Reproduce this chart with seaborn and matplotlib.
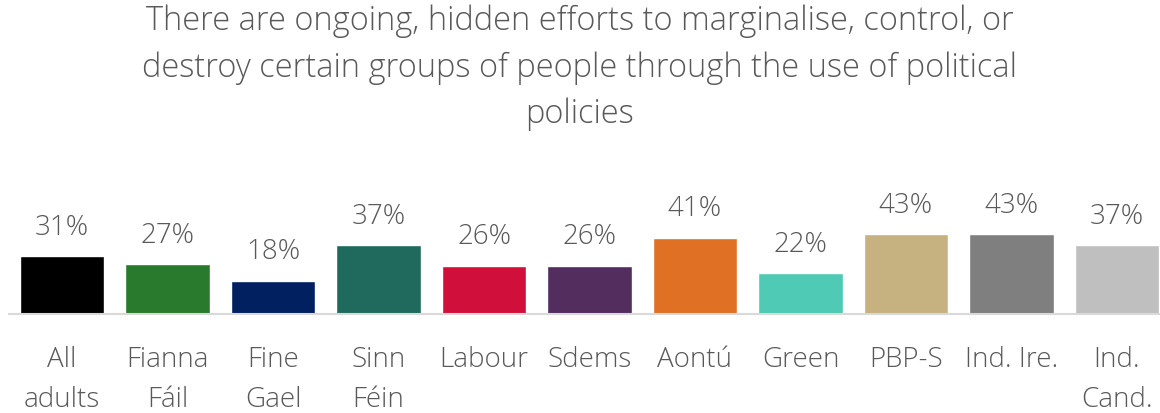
import matplotlib
matplotlib.use("Agg")
import matplotlib.pyplot as plt
import seaborn as sns
import pandas as pd

categories = ["All\nadults", "Fianna\nFáil", "Fine\nGael", "Sinn\nFéin", "Labour", "Sdems",
              "Aontú", "Green", "PBP-S", "Ind. Ire.", "Ind.\nCand."]
values = [31, 27, 18, 37, 26, 26, 41, 22, 43, 43, 37]
colors = ["#000000", "#2a7a2e", "#00205f", "#206a5d", "#d0103a", "#522d5e",
          "#e07024", "#4fcab4", "#c6b280", "#7f7f7f", "#bfbfbf"]
title = ("There are ongoing, hidden efforts to marginalise, control, or\n"
         "destroy certain groups of people through the use of political\n"
         "policies")

sns.set_theme(style="white")
plt.rcParams["font.family"] = ["Open Sans", "DejaVu Sans"]
text_color = "#595959"

df = pd.DataFrame({"cat": categories, "val": values})

fig = plt.figure(figsize=(11.6, 4.14), dpi=100)
ax = fig.add_axes([9.4 / 1160, 99 / 414, 1160.2 / 1160, 93 / 414])
sns.barplot(data=df, x="cat", y="val", hue="cat", palette=dict(zip(categories, colors)),
            width=0.8, legend=False, ax=ax, saturation=1)
ax.set_ylim(0, 50)
ax.set_xlabel("")
ax.set_ylabel("")
ax.set_yticks([])
for s in ["top", "right", "left"]:
    ax.spines[s].set_visible(False)
ax.spines["bottom"].set_color("#d9d9d9")
ax.spines["bottom"].set_linewidth(1.5)
ax.tick_params(axis="x", length=0, pad=22, labelsize=20, labelcolor=text_color)
for lbl in ax.get_xticklabels():
    lbl.set_linespacing(1.6)
    lbl.set_fontweight("light")

for i, v in enumerate(values):
    ax.annotate(f"{v}%", (i, v), xytext=(0, 11), textcoords="offset points",
                ha="center", va="bottom", fontsize=20, color=text_color,
                fontweight="light", annotation_clip=False)

fig.text(0.5, 1 - 5 / 414, title, ha="center", va="top", fontsize=23.5,
         color=text_color, linespacing=1.5, fontweight="light")

fig.savefig("out.png", dpi=100)
